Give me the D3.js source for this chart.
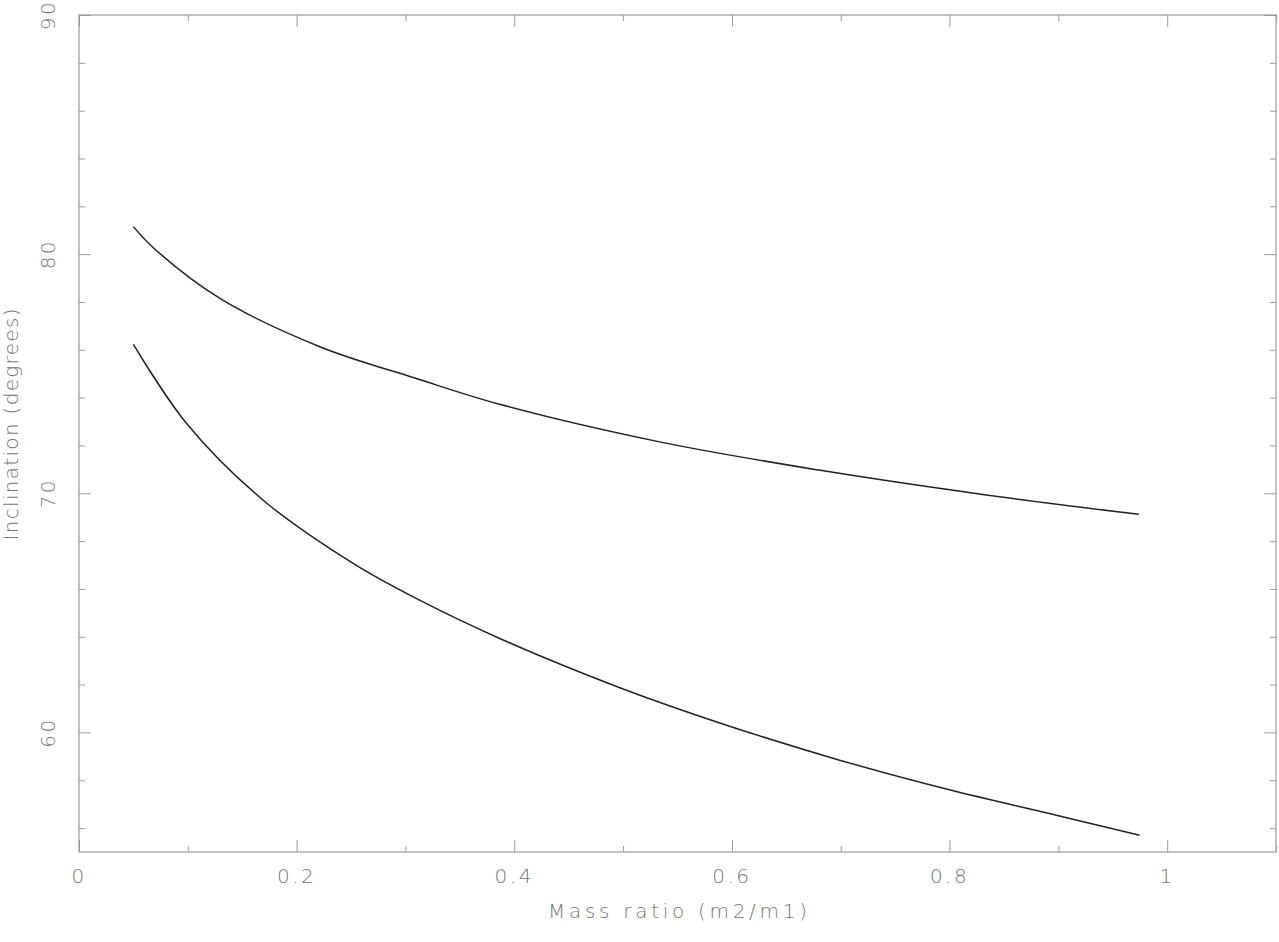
<!DOCTYPE html>
<html>
<head>
<meta charset="utf-8">
<script src="https://cdn.jsdelivr.net/npm/d3@7"></script>
<style>
  body { margin: 0; background: #fff; }
  svg { display: block; }
  .tick-label, .axis-title { font-family: "DejaVu Sans", sans-serif; font-weight: 200; fill: #767676; }
</style>
</head>
<body>
<svg id="chart"></svg>
<script>
// mass ratio q = m2/m1 and inclination limits (degrees)
const upperQ = [0.05, 0.068, 0.1295, 0.2213, 0.31, 0.3866, 0.5335, 0.68, 0.8274, 0.974];
const upperIncl = [81.15, 80.28, 78.15, 76.13, 74.8, 73.72, 72.15, 70.97, 69.97, 69.12];

const lowerQ = [0.05, 0.0989, 0.169, 0.2519, 0.313, 0.3866, 0.4988, 0.6, 0.699, 0.8007, 0.9, 0.9747];
const lowerIncl = [76.23, 72.92, 69.72, 67.07, 65.53, 63.93, 61.84, 60.23, 58.84, 57.59, 56.52, 55.7];

const xMajor = [0, 0.2, 0.4, 0.6, 0.8, 1];
const xMinor = [0.1, 0.3, 0.5, 0.7, 0.9, 1.1];
const yMajor = [60, 70, 80, 90];
const yMinor = [56, 58, 62, 64, 66, 68, 72, 74, 76, 78, 82, 84, 86, 88];

const xTitle = 'Mass ratio (m2/m1)';
const yTitle = 'Inclination (degrees)';

const width = 1279, height = 942;
const margin = { top: 15, right: 3, bottom: 90, left: 79 };
const iw = width - margin.left - margin.right;
const ih = height - margin.top - margin.bottom;

const svg = d3.select('#chart').attr('width', width).attr('height', height);
const g = svg.append('g').attr('transform', `translate(${margin.left},${margin.top})`);

const x = d3.scaleLinear().domain([0, 1.1]).range([0, iw]);
const y = d3.scaleLinear().domain([55, 90]).range([ih, 0]);

const axisColor = '#9a9a9a';

// ticks pointing inward on all four sides
function tickAxis(axisFn, scale, values, size, transform) {
    const a = g.append('g')
        .attr('transform', transform)
        .call(axisFn(scale).tickValues(values).tickSizeInner(-size).tickSizeOuter(0).tickFormat(''));
    a.select('.domain').remove();
    a.selectAll('line').attr('stroke', axisColor).attr('stroke-width', 1);
}
tickAxis(d3.axisBottom, x, xMajor, 12, `translate(0,${ih})`);
tickAxis(d3.axisBottom, x, xMinor, 6, `translate(0,${ih})`);
tickAxis(d3.axisTop, x, xMajor, 12, 'translate(0,0)');
tickAxis(d3.axisTop, x, xMinor, 6, 'translate(0,0)');
tickAxis(d3.axisLeft, y, yMajor, 12, 'translate(0,0)');
tickAxis(d3.axisLeft, y, yMinor, 6, 'translate(0,0)');
tickAxis(d3.axisRight, y, yMajor, 12, `translate(${iw},0)`);
tickAxis(d3.axisRight, y, yMinor, 6, `translate(${iw},0)`);

g.append('rect')
    .attr('x', 0).attr('y', 0)
    .attr('width', iw).attr('height', ih)
    .attr('fill', 'none')
    .attr('stroke', axisColor)
    .attr('stroke-width', 1.2);

// tick labels
g.selectAll('.xlab')
    .data(xMajor)
    .enter().append('text')
    .attr('class', 'tick-label')
    .attr('x', d => x(d))
    .attr('y', ih + 31)
    .attr('text-anchor', 'middle')
    .style('font-size', '20px')
    .style('letter-spacing', '2.5px')
    .text(d => d3.format('~g')(d));

g.selectAll('.ylab')
    .data(yMajor)
    .enter().append('text')
    .attr('class', 'tick-label')
    .attr('transform', d => `translate(-24,${y(d)}) rotate(-90)`)
    .attr('text-anchor', 'middle')
    .style('font-size', '20px')
    .style('letter-spacing', '2.5px')
    .text(d => d);

// axis titles
g.append('text')
    .attr('class', 'axis-title')
    .attr('x', iw / 2)
    .attr('y', ih + 66)
    .attr('text-anchor', 'middle')
    .attr('textLength', 259)
    .attr('lengthAdjust', 'spacing')
    .style('font-size', '20px')
    .text(xTitle);

g.append('text')
    .attr('class', 'axis-title')
    .attr('transform', `translate(-61,${ih / 2 - 9}) rotate(-90)`)
    .attr('text-anchor', 'middle')
    .attr('textLength', 232)
    .attr('lengthAdjust', 'spacing')
    .style('font-size', '20px')
    .text(yTitle);

// curves
const line = d3.line()
    .x(d => x(d[0]))
    .y(d => y(d[1]))
    .curve(d3.curveCatmullRom.alpha(0.5));

[[upperQ, upperIncl], [lowerQ, lowerIncl]].forEach(([qs, is]) => {
    g.append('path')
        .datum(d3.zip(qs, is))
        .attr('fill', 'none')
        .attr('stroke', '#222')
        .attr('stroke-width', 1.5)
        .attr('d', line);
});
</script>
</body>
</html>
